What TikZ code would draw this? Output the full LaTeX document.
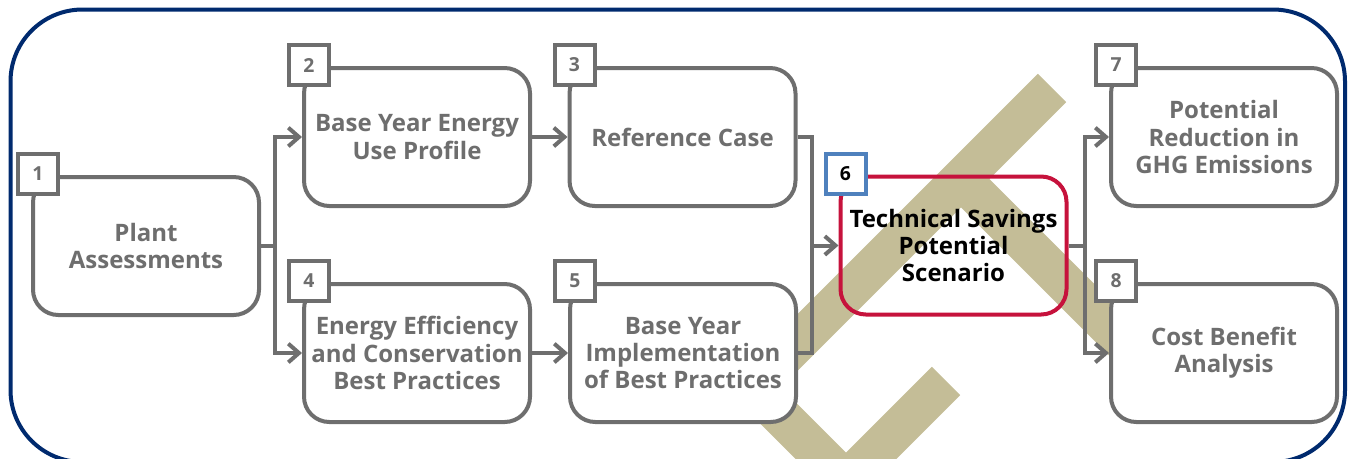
\documentclass[tikz,border=0pt]{standalone}
\usepackage{fontspec}
\setmainfont{Open Sans}
\usepackage{tikz}
\usetikzlibrary{positioning,calc}
\usetikzlibrary{arrows.meta}
\definecolor{stagegray}{RGB}{110,110,110}
\definecolor{framenavy}{RGB}{0,42,110}
\definecolor{checktan}{RGB}{196,189,151}
\definecolor{focusred}{RGB}{198,18,60}
\definecolor{focusblue}{RGB}{79,129,189}
\tikzstyle{stage} = [draw=stagegray,line width=3pt,rounded corners=19pt,fill=white,minimum width=169.5pt,minimum height=103.5pt,align=center,text=stagegray,font=\fontsize{18}{20.5}\selectfont\bfseries,inner sep=1pt]
\tikzstyle{num} = [draw=stagegray,line width=3pt,fill=white,minimum size=30pt,inner sep=0pt,text=stagegray,font=\fontsize{14.5}{15}\selectfont\bfseries]
\tikzstyle{arrow} = [draw=stagegray,line width=3pt,-{Straight Barb[length=8pt,width=14pt]}]
\tikzstyle{link} = [draw=stagegray,line width=3pt]
\tikzstyle{band} = [draw=checktan,line width=30pt,line join=miter]

\begin{document}
\begin{tikzpicture}[x=0.75pt,y=-0.75pt]
	\useasboundingbox (0,0) rectangle (1351,458);
	\draw[framenavy,line width=3pt,rounded corners=54pt] (10.5,9.5) rectangle (1345,462);
	\draw[band] (1052,88) -- (752.5,387.5) -- (846,481) -- (946,381);
	\draw[band] (961,179) -- (1150,368);

	\node[stage] (b1) at (146,246) {Plant\\Assessments};
	\node[stage] (b2) at (417,137) {Base Year Energy\\Use Profile};
	\node[stage] (b3) at (682.5,137) {Reference Case};
	\node[stage] (b4) at (417,353) {Energy Efficiency\\and Conservation\\Best Practices};
	\node[stage] (b5) at (683,353) {Base Year\\Implementation\\of Best Practices};
	\node[stage,draw=focusred,fill=none,text=black] (b6) at (953.5,245.5) {Technical Savings\\Potential\\Scenario};
	\node[stage] (b7) at (1224,137) {Potential\\Reduction in\\GHG Emissions};
	\node[stage] (b8) at (1224,353) {Cost Benefit\\Analysis};

	\foreach \i in {1,2,3,4,5,7,8}
		\node[num] (n\i) at ([shift={(5.25pt,0.75pt)}]b\i.north west) {\i};
	\node[num,draw=focusblue,text=black] (n6) at ([shift={(5.25pt,0.75pt)}]b6.north west) {6};

	\draw[arrow] (b1.east) -- ++(14,0) |- (b2.west);
	\draw[arrow] (b1.east) -- ++(14,0) |- (b4.west);
	\draw[arrow] (b2) -- (b3);
	\draw[arrow] (b4) -- (b5);
	\coordinate (j6) at (812,245.5);
	\draw[link] (b3.east) -| (j6);
	\draw[link] (b5.east) -| (j6);
	\draw[arrow] (j6) -- (b6.west);
	\draw[arrow] (b6.east) -- ++(16,0) |- (b7.west);
	\draw[arrow] (b6.east) -- ++(16,0) |- (b8.west);
\end{tikzpicture}
\end{document}
